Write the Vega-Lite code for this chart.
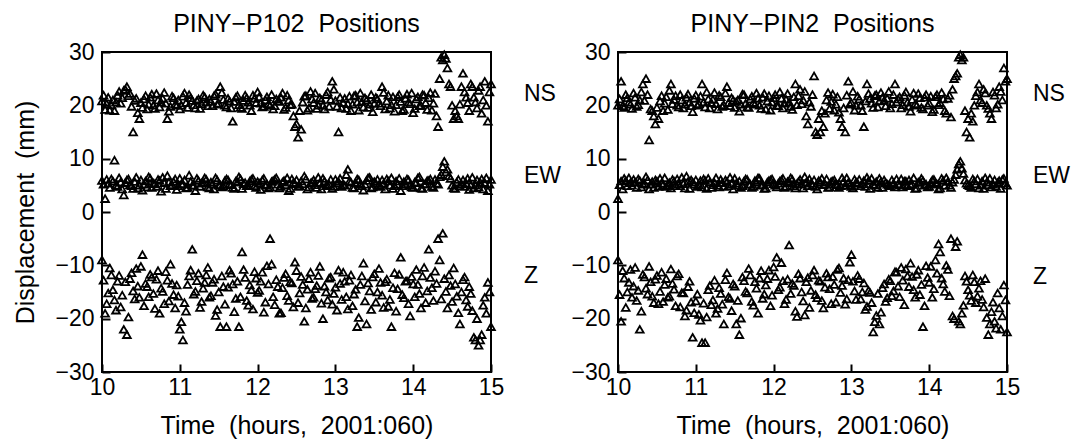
{
"$schema": "https://vega.github.io/schema/vega-lite/v6.json",
"background": "white",
"padding": {"left": 12, "top": 11, "right": 4, "bottom": 2},
"config": {
 "font": "Liberation Sans",
 "view": {"stroke": "black", "strokeWidth": 2},
 "axis": {"grid": false, "domain": false, "tickColor": "black", "tickSize": -8, "tickWidth": 2, "labelFontSize": 23, "labelColor": "black", "labelPadding": 16, "labelFlush": false, "labelOverlap": false, "titleFontSize": 25, "titleFontWeight": "normal", "titleColor": "black"},
 "axisY": {"titlePadding": 16},
 "axisX": {"titlePadding": 14, "labelPadding": 12},
 "title": {"fontSize": 25, "fontWeight": "normal", "color": "black", "offset": 0}
},
"datasets": {
"a": [
{"t":10.00,"NS":20.8,"EW":5.9,"Z":-9.0},{"t":10.04,"NS":19.2,"EW":2.5,"Z":-19.0},{"t":10.08,"NS":21.5,"EW":5.4,"Z":-15.2},{"t":10.12,"NS":20.1,"EW":6.2,"Z":-11.8},{"t":10.16,"NS":19.0,"EW":9.7,"Z":-16.5},{"t":10.20,"NS":21.9,"EW":4.8,"Z":-13.0},{"t":10.24,"NS":20.4,"EW":5.6,"Z":-17.8},{"t":10.28,"NS":22.8,"EW":3.2,"Z":-22.0},{"t":10.32,"NS":23.5,"EW":6.0,"Z":-23.0},{"t":10.36,"NS":22.2,"EW":5.1,"Z":-12.5},
{"t":10.40,"NS":15.0,"EW":4.4,"Z":-14.8},{"t":10.44,"NS":21.3,"EW":6.5,"Z":-10.6},{"t":10.48,"NS":17.5,"EW":5.0,"Z":-16.0},{"t":10.52,"NS":19.6,"EW":4.1,"Z":-8.0},{"t":10.56,"NS":21.8,"EW":5.8,"Z":-13.4},{"t":10.60,"NS":20.2,"EW":6.6,"Z":-15.9},{"t":10.64,"NS":22.1,"EW":4.6,"Z":-12.2},{"t":10.68,"NS":19.4,"EW":5.3,"Z":-18.1},{"t":10.72,"NS":21.0,"EW":6.1,"Z":-11.0},{"t":10.76,"NS":20.6,"EW":3.9,"Z":-14.3},
{"t":10.80,"NS":22.4,"EW":5.5,"Z":-17.2},{"t":10.84,"NS":17.5,"EW":6.8,"Z":-12.8},{"t":10.88,"NS":19.8,"EW":4.9,"Z":-9.8},{"t":10.92,"NS":21.4,"EW":5.7,"Z":-15.5},{"t":10.96,"NS":20.0,"EW":4.2,"Z":-13.7},{"t":11.00,"NS":19.3,"EW":6.3,"Z":-22.0},{"t":11.04,"NS":21.7,"EW":5.2,"Z":-24.0},{"t":11.08,"NS":20.5,"EW":4.5,"Z":-18.6},{"t":11.12,"NS":22.0,"EW":6.9,"Z":-12.0},{"t":11.16,"NS":20.9,"EW":5.0,"Z":-7.0},
{"t":11.20,"NS":19.5,"EW":4.0,"Z":-14.9},{"t":11.24,"NS":21.2,"EW":5.9,"Z":-11.5},{"t":11.28,"NS":20.3,"EW":5.4,"Z":-16.8},{"t":11.32,"NS":21.6,"EW":6.4,"Z":-13.2},{"t":11.36,"NS":19.9,"EW":4.7,"Z":-10.4},{"t":11.40,"NS":20.7,"EW":5.6,"Z":-15.7},{"t":11.44,"NS":21.8,"EW":4.3,"Z":-12.6},{"t":11.48,"NS":20.2,"EW":6.0,"Z":-18.3},{"t":11.52,"NS":23.5,"EW":5.1,"Z":-21.5},{"t":11.56,"NS":21.1,"EW":4.8,"Z":-14.0},
{"t":11.60,"NS":19.7,"EW":6.2,"Z":-21.5},{"t":11.64,"NS":20.8,"EW":5.3,"Z":-10.9},{"t":11.68,"NS":17.0,"EW":4.6,"Z":-13.5},{"t":11.72,"NS":21.5,"EW":5.8,"Z":-16.2},{"t":11.76,"NS":20.1,"EW":6.6,"Z":-21.5},{"t":11.80,"NS":19.4,"EW":4.4,"Z":-7.5},{"t":11.84,"NS":21.9,"EW":5.5,"Z":-12.3},{"t":11.88,"NS":20.6,"EW":5.0,"Z":-17.5},{"t":11.92,"NS":19.0,"EW":6.1,"Z":-14.6},{"t":11.96,"NS":21.3,"EW":4.9,"Z":-11.2},
{"t":12.00,"NS":22.5,"EW":5.7,"Z":-15.1},{"t":12.04,"NS":20.4,"EW":4.2,"Z":-13.0},{"t":12.08,"NS":19.8,"EW":6.3,"Z":-18.8},{"t":12.12,"NS":21.6,"EW":5.2,"Z":-10.1},{"t":12.16,"NS":20.0,"EW":4.7,"Z":-5.0},{"t":12.20,"NS":19.3,"EW":5.9,"Z":-15.9},{"t":12.24,"NS":21.2,"EW":6.4,"Z":-12.7},{"t":12.28,"NS":20.7,"EW":4.5,"Z":-19.0},{"t":12.32,"NS":22.3,"EW":5.6,"Z":-14.2},{"t":12.36,"NS":19.6,"EW":5.1,"Z":-11.6},
{"t":12.40,"NS":21.0,"EW":4.0,"Z":-16.6},{"t":12.44,"NS":20.2,"EW":6.2,"Z":-13.3},{"t":12.48,"NS":16.0,"EW":5.3,"Z":-9.4},{"t":12.52,"NS":14.0,"EW":4.8,"Z":-17.0},{"t":12.56,"NS":15.5,"EW":5.8,"Z":-12.1},{"t":12.60,"NS":21.7,"EW":6.7,"Z":-20.5},{"t":12.64,"NS":19.1,"EW":4.3,"Z":-14.5},{"t":12.68,"NS":22.6,"EW":5.4,"Z":-11.3},{"t":12.72,"NS":20.5,"EW":6.0,"Z":-16.0},{"t":12.76,"NS":19.4,"EW":4.6,"Z":-13.8},
{"t":12.80,"NS":21.4,"EW":5.5,"Z":-10.2},{"t":12.84,"NS":20.0,"EW":6.3,"Z":-20.0},{"t":12.88,"NS":22.0,"EW":4.9,"Z":-15.0},{"t":12.92,"NS":19.8,"EW":5.2,"Z":-12.4},{"t":12.96,"NS":24.5,"EW":4.4,"Z":-17.3},{"t":13.00,"NS":20.9,"EW":6.1,"Z":-14.1},{"t":13.04,"NS":15.0,"EW":5.7,"Z":-10.9},{"t":13.08,"NS":19.5,"EW":4.8,"Z":-16.4},{"t":13.12,"NS":21.3,"EW":5.0,"Z":-13.0},{"t":13.16,"NS":20.3,"EW":8.0,"Z":-18.2},
{"t":13.20,"NS":19.0,"EW":5.6,"Z":-11.8},{"t":13.24,"NS":21.8,"EW":4.5,"Z":-15.4},{"t":13.28,"NS":20.6,"EW":6.2,"Z":-21.5},{"t":13.32,"NS":22.3,"EW":5.3,"Z":-13.6},{"t":13.36,"NS":19.7,"EW":4.1,"Z":-9.6},{"t":13.40,"NS":21.0,"EW":5.9,"Z":-21.0},{"t":13.44,"NS":20.2,"EW":6.5,"Z":-14.8},{"t":13.48,"NS":18.8,"EW":4.7,"Z":-12.2},{"t":13.52,"NS":21.5,"EW":5.4,"Z":-16.9},{"t":13.56,"NS":20.4,"EW":5.1,"Z":-10.6},
{"t":13.60,"NS":23.5,"EW":6.0,"Z":-15.6},{"t":13.64,"NS":19.3,"EW":4.3,"Z":-13.1},{"t":13.68,"NS":21.9,"EW":5.8,"Z":-17.7},{"t":13.72,"NS":20.1,"EW":6.4,"Z":-21.5},{"t":13.76,"NS":18.9,"EW":4.9,"Z":-11.4},{"t":13.80,"NS":21.6,"EW":5.2,"Z":-14.4},{"t":13.84,"NS":20.7,"EW":4.0,"Z":-8.5},{"t":13.88,"NS":19.2,"EW":5.7,"Z":-16.1},{"t":13.92,"NS":22.1,"EW":6.2,"Z":-12.9},{"t":13.96,"NS":20.3,"EW":5.0,"Z":-19.5},
{"t":14.00,"NS":18.6,"EW":4.6,"Z":-13.5},{"t":14.04,"NS":21.2,"EW":5.5,"Z":-10.8},{"t":14.08,"NS":19.9,"EW":6.6,"Z":-15.3},{"t":14.12,"NS":22.0,"EW":4.4,"Z":-12.0},{"t":14.16,"NS":20.5,"EW":5.3,"Z":-17.0},{"t":14.20,"NS":21.4,"EW":5.9,"Z":-7.0},{"t":14.24,"NS":19.1,"EW":4.8,"Z":-14.2},{"t":14.28,"NS":22.2,"EW":6.1,"Z":-11.1},{"t":14.32,"NS":16.0,"EW":5.2,"Z":-5.0},{"t":14.36,"NS":29.0,"EW":7.0,"Z":-16.3},
{"t":14.40,"NS":29.5,"EW":9.5,"Z":-12.5},{"t":14.44,"NS":27.0,"EW":8.0,"Z":-18.0},{"t":14.48,"NS":23.5,"EW":6.3,"Z":-13.8},{"t":14.52,"NS":17.5,"EW":4.5,"Z":-10.5},{"t":14.56,"NS":18.0,"EW":5.6,"Z":-15.8},{"t":14.60,"NS":20.2,"EW":4.9,"Z":-21.0},{"t":14.64,"NS":26.0,"EW":6.0,"Z":-12.7},{"t":14.68,"NS":21.5,"EW":5.4,"Z":-16.5},{"t":14.72,"NS":19.0,"EW":4.2,"Z":-14.0},{"t":14.76,"NS":23.5,"EW":6.5,"Z":-18.5},
{"t":14.80,"NS":20.6,"EW":5.1,"Z":-24.0},{"t":14.84,"NS":22.8,"EW":4.7,"Z":-25.0},{"t":14.88,"NS":18.5,"EW":6.2,"Z":-23.0},{"t":14.92,"NS":24.5,"EW":5.5,"Z":-16.0},{"t":14.96,"NS":17.0,"EW":4.0,"Z":-13.2},{"t":15.00,"NS":24.0,"EW":6.1,"Z":-21.5},
{"t":10.02,"NS":21.9,"EW":5.2,"Z":-12.8},{"t":10.06,"NS":20.3,"EW":6.1,"Z":-17.2},{"t":10.10,"NS":19.1,"EW":4.6,"Z":-10.5},{"t":10.14,"NS":21.0,"EW":5.8,"Z":-14.6},{"t":10.18,"NS":20.6,"EW":5.0,"Z":-18.4},{"t":10.22,"NS":22.6,"EW":6.4,"Z":-11.9},{"t":10.26,"NS":21.4,"EW":4.3,"Z":-15.6},{"t":10.30,"NS":23.0,"EW":5.5,"Z":-13.1},{"t":10.34,"NS":21.8,"EW":6.2,"Z":-19.7},{"t":10.38,"NS":19.8,"EW":4.9,"Z":-11.4},
{"t":10.42,"NS":20.9,"EW":5.7,"Z":-16.3},{"t":10.46,"NS":18.6,"EW":4.5,"Z":-13.9},{"t":10.50,"NS":20.5,"EW":6.0,"Z":-10.2},{"t":10.54,"NS":21.2,"EW":5.2,"Z":-17.6},{"t":10.58,"NS":19.3,"EW":4.7,"Z":-14.0},{"t":10.62,"NS":21.5,"EW":6.3,"Z":-11.7},{"t":10.66,"NS":20.0,"EW":5.4,"Z":-15.3},{"t":10.70,"NS":22.2,"EW":4.8,"Z":-12.6},{"t":10.74,"NS":19.7,"EW":5.9,"Z":-19.0},{"t":10.78,"NS":21.3,"EW":6.5,"Z":-14.9},
{"t":10.82,"NS":20.4,"EW":4.4,"Z":-11.2},{"t":10.86,"NS":18.9,"EW":5.6,"Z":-16.7},{"t":10.90,"NS":21.7,"EW":5.1,"Z":-13.4},{"t":10.94,"NS":20.2,"EW":6.2,"Z":-18.0},{"t":10.98,"NS":21.0,"EW":4.9,"Z":-15.8},{"t":11.02,"NS":20.0,"EW":5.3,"Z":-20.6},{"t":11.06,"NS":22.3,"EW":6.0,"Z":-17.0},{"t":11.10,"NS":19.6,"EW":4.6,"Z":-13.6},{"t":11.14,"NS":21.4,"EW":5.7,"Z":-10.9},{"t":11.18,"NS":20.1,"EW":5.0,"Z":-15.4},
{"t":11.22,"NS":20.9,"EW":6.3,"Z":-12.9},{"t":11.26,"NS":19.4,"EW":4.8,"Z":-17.9},{"t":11.30,"NS":21.9,"EW":5.5,"Z":-14.3},{"t":11.34,"NS":20.6,"EW":6.1,"Z":-11.8},{"t":11.38,"NS":21.2,"EW":4.5,"Z":-16.0},{"t":11.42,"NS":19.9,"EW":5.2,"Z":-13.2},{"t":11.46,"NS":22.1,"EW":6.4,"Z":-19.4},{"t":11.50,"NS":20.4,"EW":5.0,"Z":-15.0},{"t":11.54,"NS":22.4,"EW":4.7,"Z":-12.0},{"t":11.58,"NS":20.0,"EW":5.9,"Z":-17.3},
{"t":11.62,"NS":21.3,"EW":6.0,"Z":-14.1},{"t":11.66,"NS":19.5,"EW":5.1,"Z":-11.5},{"t":11.70,"NS":20.7,"EW":4.4,"Z":-18.7},{"t":11.74,"NS":21.8,"EW":5.6,"Z":-13.0},{"t":11.78,"NS":19.6,"EW":6.2,"Z":-15.9},{"t":11.82,"NS":20.9,"EW":5.3,"Z":-10.8},{"t":11.86,"NS":21.4,"EW":4.9,"Z":-16.6},{"t":11.90,"NS":20.0,"EW":5.8,"Z":-13.7},{"t":11.94,"NS":21.9,"EW":6.3,"Z":-18.2},{"t":11.98,"NS":20.5,"EW":4.6,"Z":-12.4},
{"t":12.02,"NS":21.6,"EW":5.4,"Z":-14.7},{"t":12.06,"NS":19.7,"EW":6.0,"Z":-11.3},{"t":12.10,"NS":21.0,"EW":5.0,"Z":-16.9},{"t":12.14,"NS":20.3,"EW":4.5,"Z":-13.5},{"t":12.18,"NS":22.0,"EW":5.7,"Z":-9.8},{"t":12.22,"NS":19.9,"EW":6.1,"Z":-17.4},{"t":12.26,"NS":20.8,"EW":5.2,"Z":-14.0},{"t":12.30,"NS":21.5,"EW":4.8,"Z":-18.9},{"t":12.34,"NS":19.2,"EW":5.9,"Z":-12.3},{"t":12.38,"NS":21.9,"EW":6.4,"Z":-15.7},
{"t":12.42,"NS":20.1,"EW":4.4,"Z":-13.1},{"t":12.46,"NS":18.0,"EW":5.5,"Z":-17.8},{"t":12.50,"NS":16.5,"EW":6.0,"Z":-11.0},{"t":12.54,"NS":19.0,"EW":4.9,"Z":-15.2},{"t":12.58,"NS":20.6,"EW":5.3,"Z":-13.6},{"t":12.62,"NS":21.8,"EW":6.2,"Z":-18.0},{"t":12.66,"NS":19.5,"EW":4.7,"Z":-12.5},{"t":12.70,"NS":21.2,"EW":5.6,"Z":-16.2},{"t":12.74,"NS":22.3,"EW":5.1,"Z":-14.4},{"t":12.78,"NS":20.0,"EW":6.5,"Z":-11.9},
{"t":12.82,"NS":21.0,"EW":4.3,"Z":-17.1},{"t":12.86,"NS":19.3,"EW":5.8,"Z":-13.9},{"t":12.90,"NS":22.5,"EW":5.0,"Z":-16.5},{"t":12.94,"NS":21.1,"EW":6.1,"Z":-12.2},{"t":12.98,"NS":23.0,"EW":4.8,"Z":-15.3},{"t":13.02,"NS":19.8,"EW":5.4,"Z":-18.4},{"t":13.06,"NS":21.5,"EW":6.3,"Z":-13.4},{"t":13.10,"NS":20.5,"EW":5.1,"Z":-11.3},{"t":13.14,"NS":19.4,"EW":7.0,"Z":-15.9},{"t":13.18,"NS":21.7,"EW":5.8,"Z":-12.8},
{"t":13.22,"NS":20.2,"EW":4.6,"Z":-17.6},{"t":13.26,"NS":21.9,"EW":5.5,"Z":-14.5},{"t":13.30,"NS":19.1,"EW":6.0,"Z":-19.8},{"t":13.34,"NS":20.7,"EW":4.9,"Z":-12.0},{"t":13.38,"NS":21.4,"EW":5.2,"Z":-16.7},{"t":13.42,"NS":19.6,"EW":6.4,"Z":-13.3},{"t":13.46,"NS":22.0,"EW":4.5,"Z":-18.3},{"t":13.50,"NS":20.4,"EW":5.7,"Z":-11.6},{"t":13.54,"NS":21.2,"EW":6.1,"Z":-15.0},{"t":13.58,"NS":19.9,"EW":4.8,"Z":-13.2},
{"t":13.62,"NS":22.4,"EW":5.4,"Z":-17.9},{"t":13.66,"NS":20.8,"EW":6.2,"Z":-12.6},{"t":13.70,"NS":19.5,"EW":5.0,"Z":-16.4},{"t":13.74,"NS":21.6,"EW":4.4,"Z":-14.2},{"t":13.78,"NS":20.1,"EW":5.8,"Z":-18.6},{"t":13.82,"NS":22.0,"EW":6.3,"Z":-11.7},{"t":13.86,"NS":19.0,"EW":4.9,"Z":-15.5},{"t":13.90,"NS":21.3,"EW":5.3,"Z":-13.0},{"t":13.94,"NS":20.6,"EW":6.0,"Z":-17.2},{"t":13.98,"NS":22.3,"EW":4.7,"Z":-12.1},
{"t":14.02,"NS":19.4,"EW":5.6,"Z":-15.9},{"t":14.06,"NS":21.6,"EW":6.4,"Z":-13.6},{"t":14.10,"NS":20.0,"EW":4.5,"Z":-18.0},{"t":14.14,"NS":21.9,"EW":5.2,"Z":-10.4},{"t":14.18,"NS":19.2,"EW":5.9,"Z":-14.8},{"t":14.22,"NS":22.4,"EW":6.2,"Z":-12.3},{"t":14.26,"NS":20.4,"EW":4.6,"Z":-16.6},{"t":14.30,"NS":18.0,"EW":5.4,"Z":-13.4},{"t":14.34,"NS":25.0,"EW":6.6,"Z":-9.0},{"t":14.38,"NS":28.5,"EW":8.5,"Z":-4.0},
{"t":14.42,"NS":28.8,"EW":7.5,"Z":-14.9},{"t":14.46,"NS":24.0,"EW":6.8,"Z":-11.8},{"t":14.50,"NS":20.0,"EW":5.0,"Z":-16.8},{"t":14.54,"NS":19.0,"EW":4.4,"Z":-13.5},{"t":14.58,"NS":17.5,"EW":6.1,"Z":-18.9},{"t":14.62,"NS":23.5,"EW":5.3,"Z":-15.0},{"t":14.66,"NS":22.5,"EW":4.8,"Z":-12.2},{"t":14.70,"NS":20.5,"EW":6.3,"Z":-17.7},{"t":14.74,"NS":24.0,"EW":5.0,"Z":-15.3},{"t":14.78,"NS":21.5,"EW":4.5,"Z":-23.5},
{"t":14.82,"NS":19.5,"EW":6.0,"Z":-20.0},{"t":14.86,"NS":23.5,"EW":5.6,"Z":-24.0},{"t":14.90,"NS":21.0,"EW":4.3,"Z":-17.5},{"t":14.94,"NS":20.0,"EW":6.4,"Z":-19.0},{"t":14.98,"NS":22.5,"EW":5.2,"Z":-15.0}
],
"b": [
{"t":10.00,"NS":20.0,"EW":2.5,"Z":-9.0},{"t":10.04,"NS":24.5,"EW":5.8,"Z":-20.5},{"t":10.08,"NS":19.6,"EW":6.3,"Z":-12.4},{"t":10.12,"NS":21.4,"EW":4.9,"Z":-15.0},{"t":10.16,"NS":20.2,"EW":5.5,"Z":-10.8},{"t":10.20,"NS":22.3,"EW":6.1,"Z":-13.9},{"t":10.24,"NS":19.8,"EW":4.6,"Z":-16.6},{"t":10.28,"NS":21.0,"EW":5.9,"Z":-22.0},{"t":10.32,"NS":24.0,"EW":5.2,"Z":-11.7},{"t":10.36,"NS":25.0,"EW":6.6,"Z":-14.3},
{"t":10.40,"NS":13.5,"EW":4.3,"Z":-10.2},{"t":10.44,"NS":19.0,"EW":5.7,"Z":-15.8},{"t":10.48,"NS":16.5,"EW":6.0,"Z":-12.6},{"t":10.52,"NS":17.5,"EW":4.8,"Z":-17.2},{"t":10.56,"NS":21.8,"EW":5.4,"Z":-11.3},{"t":10.60,"NS":20.4,"EW":6.4,"Z":-13.6},{"t":10.64,"NS":19.2,"EW":5.0,"Z":-16.0},{"t":10.68,"NS":24.0,"EW":4.5,"Z":-10.7},{"t":10.72,"NS":21.1,"EW":5.8,"Z":-14.5},{"t":10.76,"NS":20.0,"EW":6.2,"Z":-12.0},
{"t":10.80,"NS":22.0,"EW":4.9,"Z":-17.8},{"t":10.84,"NS":19.5,"EW":5.3,"Z":-15.2},{"t":10.88,"NS":21.5,"EW":6.7,"Z":-18.4},{"t":10.92,"NS":20.6,"EW":4.4,"Z":-13.0},{"t":10.96,"NS":18.8,"EW":5.6,"Z":-23.5},{"t":11.00,"NS":21.9,"EW":6.0,"Z":-16.7},{"t":11.04,"NS":20.3,"EW":5.1,"Z":-19.2},{"t":11.08,"NS":24.0,"EW":4.7,"Z":-24.5},{"t":11.12,"NS":19.7,"EW":5.9,"Z":-24.5},{"t":11.16,"NS":21.2,"EW":6.3,"Z":-14.6},
{"t":11.20,"NS":20.5,"EW":4.6,"Z":-17.4},{"t":11.24,"NS":22.4,"EW":5.5,"Z":-12.8},{"t":11.28,"NS":19.3,"EW":5.0,"Z":-18.1},{"t":11.32,"NS":21.6,"EW":6.1,"Z":-15.3},{"t":11.36,"NS":20.1,"EW":4.8,"Z":-21.0},{"t":11.40,"NS":23.5,"EW":5.7,"Z":-11.4},{"t":11.44,"NS":19.9,"EW":6.5,"Z":-16.2},{"t":11.48,"NS":21.0,"EW":4.3,"Z":-13.5},{"t":11.52,"NS":20.7,"EW":5.4,"Z":-21.0},{"t":11.56,"NS":18.9,"EW":5.8,"Z":-23.0},
{"t":11.60,"NS":22.1,"EW":4.9,"Z":-12.2},{"t":11.64,"NS":20.4,"EW":6.2,"Z":-14.9},{"t":11.68,"NS":19.6,"EW":5.2,"Z":-10.6},{"t":11.72,"NS":21.7,"EW":4.6,"Z":-16.8},{"t":11.76,"NS":20.2,"EW":5.9,"Z":-13.1},{"t":11.80,"NS":21.3,"EW":6.4,"Z":-19.0},{"t":11.84,"NS":19.4,"EW":5.0,"Z":-11.0},{"t":11.88,"NS":22.2,"EW":4.4,"Z":-15.4},{"t":11.92,"NS":20.8,"EW":5.6,"Z":-12.5},{"t":11.96,"NS":19.1,"EW":6.0,"Z":-17.6},
{"t":12.00,"NS":21.4,"EW":5.3,"Z":-10.3},{"t":12.04,"NS":20.0,"EW":4.7,"Z":-8.5},{"t":12.08,"NS":22.5,"EW":5.8,"Z":-14.1},{"t":12.12,"NS":19.5,"EW":6.3,"Z":-12.9},{"t":12.16,"NS":21.1,"EW":4.8,"Z":-16.4},{"t":12.20,"NS":20.6,"EW":5.5,"Z":-6.2},{"t":12.24,"NS":19.2,"EW":6.1,"Z":-13.4},{"t":12.28,"NS":24.0,"EW":4.5,"Z":-18.6},{"t":12.32,"NS":21.8,"EW":5.7,"Z":-11.6},{"t":12.36,"NS":20.3,"EW":5.2,"Z":-15.0},
{"t":12.40,"NS":22.6,"EW":6.6,"Z":-19.3},{"t":12.44,"NS":16.5,"EW":4.9,"Z":-12.3},{"t":12.48,"NS":19.8,"EW":5.4,"Z":-14.7},{"t":12.52,"NS":25.5,"EW":6.0,"Z":-10.9},{"t":12.56,"NS":14.5,"EW":4.3,"Z":-16.1},{"t":12.60,"NS":15.0,"EW":5.6,"Z":-13.0},{"t":12.64,"NS":16.0,"EW":5.1,"Z":-18.0},{"t":12.68,"NS":21.0,"EW":6.2,"Z":-11.5},{"t":12.72,"NS":19.4,"EW":4.7,"Z":-14.4},{"t":12.76,"NS":22.1,"EW":5.8,"Z":-12.1},
{"t":12.80,"NS":20.2,"EW":5.3,"Z":-16.9},{"t":12.84,"NS":18.7,"EW":4.6,"Z":-10.5},{"t":12.88,"NS":16.0,"EW":6.4,"Z":-13.8},{"t":12.92,"NS":15.0,"EW":5.0,"Z":-17.3},{"t":12.96,"NS":24.5,"EW":5.5,"Z":-12.7},{"t":13.00,"NS":20.5,"EW":4.8,"Z":-8.0},{"t":13.04,"NS":19.1,"EW":6.1,"Z":-14.8},{"t":13.08,"NS":21.7,"EW":5.4,"Z":-11.9},{"t":13.12,"NS":20.0,"EW":4.9,"Z":-16.3},{"t":13.16,"NS":16.0,"EW":5.9,"Z":-13.3},
{"t":13.20,"NS":24.0,"EW":6.5,"Z":-17.7},{"t":13.24,"NS":21.3,"EW":4.4,"Z":-15.1},{"t":13.28,"NS":19.6,"EW":5.2,"Z":-22.5},{"t":13.32,"NS":22.0,"EW":5.7,"Z":-19.4},{"t":13.36,"NS":20.8,"EW":6.3,"Z":-21.0},{"t":13.40,"NS":21.5,"EW":4.6,"Z":-14.2},{"t":13.44,"NS":19.9,"EW":5.5,"Z":-16.8},{"t":13.48,"NS":22.6,"EW":5.0,"Z":-12.6},{"t":13.52,"NS":20.3,"EW":6.0,"Z":-15.7},{"t":13.56,"NS":24.0,"EW":4.7,"Z":-11.2},
{"t":13.60,"NS":21.2,"EW":5.3,"Z":-13.9},{"t":13.64,"NS":19.5,"EW":6.2,"Z":-10.4},{"t":13.68,"NS":21.9,"EW":5.8,"Z":-17.4},{"t":13.72,"NS":20.6,"EW":4.9,"Z":-12.0},{"t":13.76,"NS":18.9,"EW":5.1,"Z":-9.6},{"t":13.80,"NS":22.3,"EW":6.4,"Z":-14.6},{"t":13.84,"NS":20.0,"EW":4.5,"Z":-11.7},{"t":13.88,"NS":21.4,"EW":5.6,"Z":-15.5},{"t":13.92,"NS":19.3,"EW":5.9,"Z":-21.5},{"t":13.96,"NS":22.0,"EW":5.2,"Z":-10.1},
{"t":14.00,"NS":20.4,"EW":4.8,"Z":-13.2},{"t":14.04,"NS":18.8,"EW":6.0,"Z":-16.0},{"t":14.08,"NS":21.6,"EW":5.5,"Z":-9.0},{"t":14.12,"NS":20.1,"EW":4.3,"Z":-6.0},{"t":14.16,"NS":22.4,"EW":6.3,"Z":-12.4},{"t":14.20,"NS":19.0,"EW":5.0,"Z":-14.9},{"t":14.24,"NS":21.3,"EW":5.7,"Z":-10.8},{"t":14.28,"NS":17.8,"EW":4.6,"Z":-5.0},{"t":14.32,"NS":25.0,"EW":6.1,"Z":-20.0},{"t":14.36,"NS":26.0,"EW":8.0,"Z":-5.5},
{"t":14.40,"NS":29.5,"EW":9.5,"Z":-21.0},{"t":14.44,"NS":29.0,"EW":7.2,"Z":-17.5},{"t":14.48,"NS":15.0,"EW":5.4,"Z":-13.0},{"t":14.52,"NS":14.0,"EW":4.9,"Z":-15.6},{"t":14.56,"NS":17.0,"EW":6.2,"Z":-11.8},{"t":14.60,"NS":21.8,"EW":5.3,"Z":-17.0},{"t":14.64,"NS":24.0,"EW":4.5,"Z":-14.3},{"t":14.68,"NS":20.5,"EW":5.8,"Z":-16.4},{"t":14.72,"NS":22.3,"EW":6.4,"Z":-12.5},{"t":14.76,"NS":19.4,"EW":5.1,"Z":-23.0},
{"t":14.80,"NS":17.5,"EW":4.7,"Z":-18.7},{"t":14.84,"NS":21.9,"EW":6.0,"Z":-20.5},{"t":14.88,"NS":20.2,"EW":5.5,"Z":-15.2},{"t":14.92,"NS":22.6,"EW":4.4,"Z":-22.0},{"t":14.96,"NS":27.0,"EW":6.3,"Z":-13.7},{"t":15.00,"NS":25.0,"EW":5.0,"Z":-22.5},
{"t":10.02,"NS":21.2,"EW":5.1,"Z":-15.5},{"t":10.06,"NS":19.9,"EW":4.3,"Z":-11.0},{"t":10.10,"NS":22.0,"EW":5.9,"Z":-17.9},{"t":10.14,"NS":20.6,"EW":6.4,"Z":-13.2},{"t":10.18,"NS":19.4,"EW":5.0,"Z":-16.0},{"t":10.22,"NS":21.5,"EW":5.6,"Z":-10.4},{"t":10.26,"NS":20.1,"EW":6.2,"Z":-14.7},{"t":10.30,"NS":22.5,"EW":4.7,"Z":-18.6},{"t":10.34,"NS":20.9,"EW":5.4,"Z":-12.2},{"t":10.38,"NS":22.0,"EW":6.0,"Z":-15.4},
{"t":10.42,"NS":19.3,"EW":5.2,"Z":-13.1},{"t":10.46,"NS":18.0,"EW":4.6,"Z":-17.0},{"t":10.50,"NS":19.6,"EW":5.8,"Z":-11.9},{"t":10.54,"NS":20.8,"EW":6.3,"Z":-14.9},{"t":10.58,"NS":19.0,"EW":5.1,"Z":-16.8},{"t":10.62,"NS":21.6,"EW":4.8,"Z":-12.5},{"t":10.66,"NS":22.8,"EW":5.5,"Z":-15.8},{"t":10.70,"NS":20.3,"EW":6.1,"Z":-13.4},{"t":10.74,"NS":21.8,"EW":4.9,"Z":-17.6},{"t":10.78,"NS":19.7,"EW":5.3,"Z":-11.6},
{"t":10.82,"NS":21.0,"EW":6.5,"Z":-15.1},{"t":10.86,"NS":20.2,"EW":4.5,"Z":-19.5},{"t":10.90,"NS":22.1,"EW":5.7,"Z":-14.0},{"t":10.94,"NS":19.9,"EW":6.0,"Z":-16.9},{"t":10.98,"NS":21.3,"EW":5.2,"Z":-18.9},{"t":11.02,"NS":20.0,"EW":4.8,"Z":-15.4},{"t":11.06,"NS":21.7,"EW":5.9,"Z":-20.3},{"t":11.10,"NS":20.6,"EW":6.2,"Z":-17.1},{"t":11.14,"NS":22.5,"EW":4.4,"Z":-19.7},{"t":11.18,"NS":19.5,"EW":5.6,"Z":-13.8},
{"t":11.22,"NS":21.1,"EW":5.1,"Z":-16.5},{"t":11.26,"NS":20.3,"EW":6.4,"Z":-19.0},{"t":11.30,"NS":21.9,"EW":4.7,"Z":-14.2},{"t":11.34,"NS":19.8,"EW":5.5,"Z":-17.3},{"t":11.38,"NS":22.3,"EW":6.0,"Z":-12.7},{"t":11.42,"NS":20.5,"EW":4.9,"Z":-15.9},{"t":11.46,"NS":21.4,"EW":5.3,"Z":-18.5},{"t":11.50,"NS":19.6,"EW":6.3,"Z":-13.9},{"t":11.54,"NS":21.0,"EW":5.0,"Z":-16.6},{"t":11.58,"NS":20.2,"EW":4.6,"Z":-19.9},
{"t":11.62,"NS":22.0,"EW":5.8,"Z":-12.9},{"t":11.66,"NS":19.7,"EW":6.1,"Z":-15.2},{"t":11.70,"NS":21.2,"EW":5.2,"Z":-11.8},{"t":11.74,"NS":20.5,"EW":4.8,"Z":-17.5},{"t":11.78,"NS":22.3,"EW":5.6,"Z":-14.3},{"t":11.82,"NS":20.0,"EW":6.3,"Z":-12.4},{"t":11.86,"NS":21.5,"EW":5.1,"Z":-16.2},{"t":11.90,"NS":19.3,"EW":4.5,"Z":-13.7},{"t":11.94,"NS":21.8,"EW":5.9,"Z":-10.9},{"t":11.98,"NS":20.6,"EW":6.2,"Z":-15.6},
{"t":12.02,"NS":22.0,"EW":5.0,"Z":-12.1},{"t":12.06,"NS":19.9,"EW":5.4,"Z":-14.6},{"t":12.10,"NS":21.3,"EW":6.0,"Z":-9.5},{"t":12.14,"NS":20.4,"EW":4.6,"Z":-17.2},{"t":12.18,"NS":22.2,"EW":5.7,"Z":-12.6},{"t":12.22,"NS":19.8,"EW":6.4,"Z":-15.3},{"t":12.26,"NS":21.6,"EW":4.9,"Z":-13.8},{"t":12.30,"NS":20.1,"EW":5.3,"Z":-19.6},{"t":12.34,"NS":23.0,"EW":6.1,"Z":-12.4},{"t":12.38,"NS":21.0,"EW":4.5,"Z":-16.7},
{"t":12.42,"NS":18.0,"EW":5.6,"Z":-13.1},{"t":12.46,"NS":20.6,"EW":6.2,"Z":-17.9},{"t":12.50,"NS":22.0,"EW":5.0,"Z":-11.8},{"t":12.54,"NS":15.0,"EW":4.8,"Z":-15.5},{"t":12.58,"NS":17.5,"EW":5.9,"Z":-12.8},{"t":12.62,"NS":19.0,"EW":6.3,"Z":-16.6},{"t":12.66,"NS":18.5,"EW":5.2,"Z":-14.1},{"t":12.70,"NS":22.4,"EW":4.6,"Z":-12.2},{"t":12.74,"NS":20.7,"EW":5.7,"Z":-17.2},{"t":12.78,"NS":19.1,"EW":6.0,"Z":-13.6},
{"t":12.82,"NS":21.6,"EW":5.1,"Z":-10.8},{"t":12.86,"NS":17.5,"EW":4.9,"Z":-15.1},{"t":12.90,"NS":19.5,"EW":5.8,"Z":-12.4},{"t":12.94,"NS":21.9,"EW":6.4,"Z":-16.3},{"t":12.98,"NS":20.2,"EW":5.0,"Z":-9.4},{"t":13.02,"NS":22.6,"EW":4.5,"Z":-13.0},{"t":13.06,"NS":20.0,"EW":5.6,"Z":-16.4},{"t":13.10,"NS":21.2,"EW":6.1,"Z":-12.5},{"t":13.14,"NS":19.0,"EW":5.3,"Z":-15.0},{"t":13.18,"NS":20.8,"EW":4.8,"Z":-18.3},
{"t":13.22,"NS":22.2,"EW":5.9,"Z":-14.7},{"t":13.26,"NS":20.4,"EW":6.3,"Z":-17.0},{"t":13.30,"NS":21.8,"EW":5.0,"Z":-20.6},{"t":13.34,"NS":19.7,"EW":4.6,"Z":-15.3},{"t":13.38,"NS":22.4,"EW":5.7,"Z":-18.8},{"t":13.42,"NS":20.9,"EW":6.0,"Z":-13.5},{"t":13.46,"NS":21.3,"EW":5.2,"Z":-16.1},{"t":13.50,"NS":19.5,"EW":4.9,"Z":-12.9},{"t":13.54,"NS":22.0,"EW":5.4,"Z":-14.8},{"t":13.58,"NS":20.6,"EW":6.2,"Z":-11.3},
{"t":13.62,"NS":21.6,"EW":5.1,"Z":-15.9},{"t":13.66,"NS":20.1,"EW":4.7,"Z":-12.8},{"t":13.70,"NS":22.5,"EW":5.8,"Z":-10.7},{"t":13.74,"NS":19.8,"EW":6.0,"Z":-14.0},{"t":13.78,"NS":21.1,"EW":5.3,"Z":-12.1},{"t":13.82,"NS":20.3,"EW":4.4,"Z":-16.0},{"t":13.86,"NS":22.2,"EW":5.6,"Z":-10.9},{"t":13.90,"NS":19.6,"EW":6.3,"Z":-13.6},{"t":13.94,"NS":21.5,"EW":5.0,"Z":-17.6},{"t":13.98,"NS":20.0,"EW":4.7,"Z":-12.3},
{"t":14.02,"NS":21.7,"EW":5.5,"Z":-10.2},{"t":14.06,"NS":19.2,"EW":6.1,"Z":-14.4},{"t":14.10,"NS":22.0,"EW":5.2,"Z":-11.5},{"t":14.14,"NS":20.5,"EW":4.5,"Z":-7.5},{"t":14.18,"NS":21.2,"EW":5.9,"Z":-13.5},{"t":14.22,"NS":18.5,"EW":6.4,"Z":-10.0},{"t":14.26,"NS":21.9,"EW":5.0,"Z":-15.7},{"t":14.30,"NS":23.0,"EW":5.6,"Z":-19.5},{"t":14.34,"NS":25.5,"EW":7.0,"Z":-6.5},{"t":14.38,"NS":29.0,"EW":9.0,"Z":-20.5},
{"t":14.42,"NS":28.5,"EW":8.2,"Z":-19.0},{"t":14.46,"NS":19.0,"EW":6.0,"Z":-12.0},{"t":14.50,"NS":17.5,"EW":5.1,"Z":-14.6},{"t":14.54,"NS":18.5,"EW":4.6,"Z":-16.6},{"t":14.58,"NS":20.0,"EW":5.8,"Z":-13.1},{"t":14.62,"NS":22.5,"EW":6.2,"Z":-15.8},{"t":14.66,"NS":21.0,"EW":5.0,"Z":-12.9},{"t":14.70,"NS":23.0,"EW":4.4,"Z":-17.8},{"t":14.74,"NS":20.0,"EW":5.6,"Z":-19.8},{"t":14.78,"NS":18.5,"EW":6.3,"Z":-21.0},
{"t":14.82,"NS":22.5,"EW":5.2,"Z":-16.9},{"t":14.86,"NS":19.5,"EW":4.8,"Z":-21.8},{"t":14.90,"NS":23.5,"EW":5.9,"Z":-18.0},{"t":14.94,"NS":21.0,"EW":6.1,"Z":-19.5},{"t":14.98,"NS":24.5,"EW":5.4,"Z":-16.5}
]
},
"spacing": 127,
"bounds": "flush",
"hconcat": [
{
 "width": 389, "height": 320,
 "title": {"text": "PINY−P102\u00a0 Positions"},
 "data": {"name": "a"},
 "transform": [{"fold": ["NS", "EW", "Z"], "as": ["s", "v"]}],
 "layer": [
  {"mark": {"type": "point", "shape": "triangle-up", "filled": false, "stroke": "black", "strokeWidth": 1.8, "size": 60, "opacity": 1},
   "encoding": {
    "x": {"field": "t", "type": "quantitative", "title": "Time\u00a0 (hours,\u00a0 2001:060)", "scale": {"domain": [10, 15], "nice": false, "zero": false}, "axis": {"values": [10, 11, 12, 13, 14, 15], "format": "d"}},
    "y": {"field": "v", "type": "quantitative", "title": "Displacement\u00a0 (mm)", "scale": {"domain": [-30, 30], "nice": false}, "axis": {"values": [-30, -20, -10, 0, 10, 20, 30], "format": "d"}}
   }},
  {"transform": [{"filter": {"field": "s", "oneOf": ["NS", "EW"]}}, {"aggregate": [{"op": "mean", "field": "v", "as": "m"}], "groupby": ["s"]}],
   "mark": {"type": "text", "align": "left", "baseline": "middle", "dx": 33, "dy": -7, "fontSize": 23, "color": "black"},
   "encoding": {
    "x": {"datum": 15},
    "y": {"field": "m", "type": "quantitative", "title": "Displacement\u00a0 (mm)"},
    "text": {"field": "s"}
   }},
  {"transform": [{"filter": {"field": "s", "equal": "Z"}}, {"aggregate": [{"op": "mean", "field": "v", "as": "m"}], "groupby": ["s"]}],
   "mark": {"type": "text", "align": "left", "baseline": "middle", "dx": 33, "dy": -15, "fontSize": 23, "color": "black"},
   "encoding": {
    "x": {"datum": 15},
    "y": {"field": "m", "type": "quantitative", "title": "Displacement\u00a0 (mm)"},
    "text": {"field": "s"}
   }}
 ]
},
{
 "width": 389, "height": 320,
 "title": {"text": "PINY−PIN2\u00a0 Positions"},
 "data": {"name": "b"},
 "transform": [{"fold": ["NS", "EW", "Z"], "as": ["s", "v"]}],
 "layer": [
  {"mark": {"type": "point", "shape": "triangle-up", "filled": false, "stroke": "black", "strokeWidth": 1.8, "size": 60, "opacity": 1},
   "encoding": {
    "x": {"field": "t", "type": "quantitative", "title": "Time\u00a0 (hours,\u00a0 2001:060)", "scale": {"domain": [10, 15], "nice": false, "zero": false}, "axis": {"values": [10, 11, 12, 13, 14, 15], "format": "d"}},
    "y": {"field": "v", "type": "quantitative", "title": null, "scale": {"domain": [-30, 30], "nice": false}, "axis": {"values": [-30, -20, -10, 0, 10, 20, 30], "format": "d"}}
   }},
  {"transform": [{"filter": {"field": "s", "oneOf": ["NS", "EW"]}}, {"aggregate": [{"op": "mean", "field": "v", "as": "m"}], "groupby": ["s"]}],
   "mark": {"type": "text", "align": "left", "baseline": "middle", "dx": 26, "dy": -7, "fontSize": 23, "color": "black"},
   "encoding": {
    "x": {"datum": 15},
    "y": {"field": "m", "type": "quantitative", "title": null},
    "text": {"field": "s"}
   }},
  {"transform": [{"filter": {"field": "s", "equal": "Z"}}, {"aggregate": [{"op": "mean", "field": "v", "as": "m"}], "groupby": ["s"]}],
   "mark": {"type": "text", "align": "left", "baseline": "middle", "dx": 26, "dy": -15, "fontSize": 23, "color": "black"},
   "encoding": {
    "x": {"datum": 15},
    "y": {"field": "m", "type": "quantitative", "title": null},
    "text": {"field": "s"}
   }}
 ]
}
]
}
